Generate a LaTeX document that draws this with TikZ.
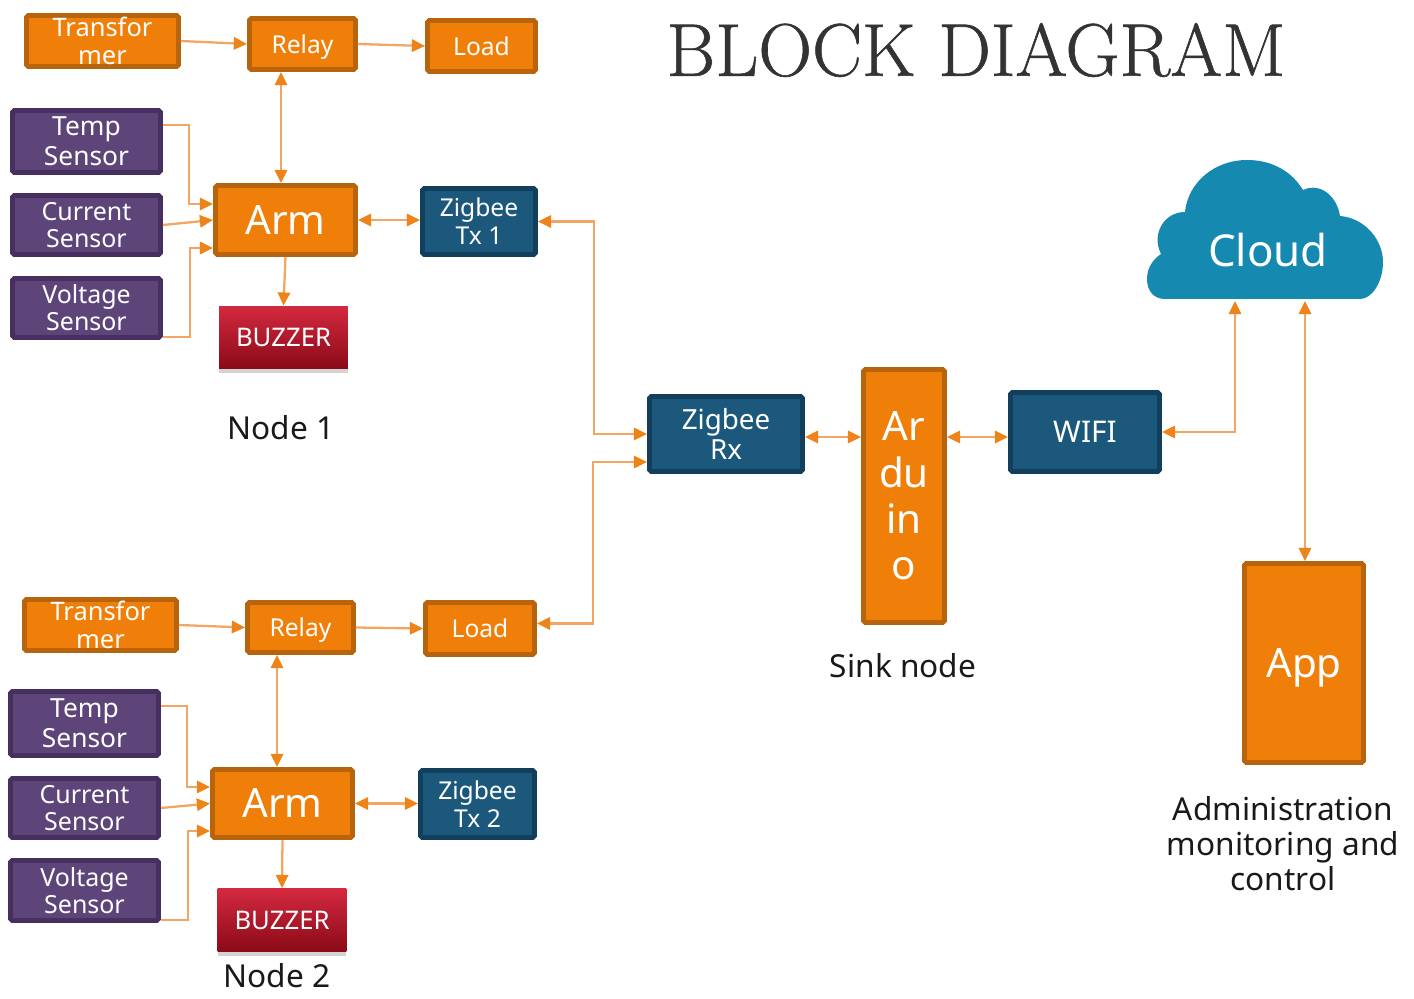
\documentclass[tikz,border=0pt]{standalone}
\usepackage{fontspec}
\usepackage{xcolor}
\usepackage{tikz}
\usetikzlibrary{arrows.meta,shadows}
\newfontfamily\labelfont{Noto Sans}
\newfontfamily\titlefont[FakeBold=0.8]{Latin Modern Roman}
\definecolor{blockorange}{HTML}{F07F09}
\definecolor{edgeorange}{HTML}{B8640C}
\definecolor{blockpurple}{HTML}{5E4579}
\definecolor{edgepurple}{HTML}{47305F}
\definecolor{blockblue}{HTML}{1B587C}
\definecolor{edgeblue}{HTML}{123F5C}
\definecolor{cloudblue}{HTML}{1689B0}
\definecolor{linkorange}{HTML}{F3A662}
\definecolor{tiporange}{HTML}{EE8419}
\definecolor{buzzertop}{HTML}{D4293F}
\definecolor{buzzerbottom}{HTML}{8A0A18}
\tikzset{
  boxsize/.style 2 args={minimum width={(#1-5)*0.02cm},minimum height={(#2-5)*0.02cm}},
  block/.style={rectangle,rounded corners=1pt,line width=2.8pt,align=center,text=white,inner sep=0pt,
    font=\labelfont\fontsize{14}{16}\selectfont},
  orangebox/.style={block,draw=edgeorange,fill=blockorange},
  purplebox/.style={block,draw=edgepurple,fill=blockpurple,font=\labelfont\fontsize{15}{17}\selectfont},
  tightbox/.style={purplebox,font=\labelfont\fontsize{14.2}{15.5}\selectfont},
  bluebox/.style={block,draw=edgeblue,fill=blockblue},
  buzzerbox/.style={rectangle,text=white,top color=buzzertop,bottom color=buzzerbottom,
    minimum width=2.58cm,minimum height=1.26cm,inner sep=0pt,
    font=\labelfont\fontsize{14.6}{16}\selectfont,
    drop shadow={shadow xshift=0pt,shadow yshift=-2.5pt,opacity=0.35}},
  bigtext/.style={font=\labelfont\fontsize{23}{26.4}\selectfont},
  caption/.style={inner sep=0pt,align=center,text=black!90,font=\labelfont\fontsize{18}{20}\selectfont},
  link/.style={line width=1.3pt,draw=linkorange,
    -{Triangle[length=7.5pt,width=7pt,color=tiporange]}},
  duplex/.style={link,{Triangle[length=7.5pt,width=7pt,color=tiporange]}-{Triangle[length=7.5pt,width=7pt,color=tiporange]}}
}
\begin{document}
\begin{tikzpicture}[x=0.02cm,y=-0.02cm]
    \useasboundingbox (0,0) rectangle (1414,999);
    \node[inner sep=0pt,text=black!80,font=\titlefont\fontsize{42.5}{46}\selectfont] (title) at (976,50) {BLOCK DIAGRAM};

    \node[orangebox,font=\labelfont\fontsize{14.5}{16}\selectfont,boxsize={157}{56}] (tr1) at (102.5,41) {Transfor\\mer};
    \node[orangebox,text depth=0pt,boxsize={111}{56}] (re1) at (302.5,44) {Relay};
    \node[orangebox,boxsize={113}{56}] (lo1) at (481.5,46) {Load};
    \node[purplebox,boxsize={153}{67}] (te1) at (86.5,141.5) {Temp\\Sensor};
    \node[tightbox,boxsize={153}{64}] (cu1) at (86.5,225) {Current\\Sensor};
    \node[tightbox,boxsize={153}{64}] (vo1) at (86.5,308) {Voltage\\Sensor};
    \node[orangebox,bigtext,boxsize={145}{74}] (arm1) at (285.5,220) {Arm};
    \node[bluebox,boxsize={118}{71}] (zt1) at (479,221.5) {Zigbee\\Tx 1};
    \node[buzzerbox] (bu1) at (283.5,337.5) {BUZZER};
    \node[caption] (no1) at (281,428) {Node 1};

    \node[orangebox,font=\labelfont\fontsize{14.5}{16}\selectfont,boxsize={157}{56}] (tr2) at (100.5,625) {Transfor\\mer};
    \node[orangebox,text depth=0pt,boxsize={111}{55}] (re2) at (300.5,627.5) {Relay};
    \node[orangebox,boxsize={114}{57}] (lo2) at (480,628.5) {Load};
    \node[purplebox,boxsize={153}{69}] (te2) at (84.5,723.5) {Temp\\Sensor};
    \node[tightbox,boxsize={153}{64}] (cu2) at (84.5,808) {Current\\Sensor};
    \node[tightbox,boxsize={153}{65}] (vo2) at (84.5,890.5) {Voltage\\Sensor};
    \node[orangebox,bigtext,boxsize={145}{73}] (arm2) at (282.5,803.5) {Arm};
    \node[bluebox,boxsize={119}{72}] (zt2) at (477.5,804) {Zigbee\\Tx 2};
    \node[buzzerbox] (bu2) at (282,920) {BUZZER};
    \node[caption] (no2) at (277,976) {Node 2};

    \node[bluebox,font=\labelfont\fontsize{15.8}{17}\selectfont,boxsize={158}{80}] (rx) at (726,434) {Zigbee\\Rx};
    \node[orangebox,bigtext,boxsize={86}{258}] (ard) at (904,496) {Ar\\du\\in\\o};
    \node[bluebox,font=\labelfont\fontsize{17}{19}\selectfont,boxsize={154}{84}] (wifi) at (1085,432) {WIFI};
    \node[orangebox,bigtext,text depth=0pt,boxsize={124}{204}] (app) at (1304,663) {App};
    \node[caption] (sink) at (903,666) {Sink node};
    \node[caption] (admin) at (1283,844) {Administration\\monitoring and\\control};

    \fill[cloudblue] (1165,299) .. controls (1153,299) and (1147,290) .. (1147,279)
      .. controls (1147,266) and (1155,258) .. (1161,254)
      .. controls (1151,234) and (1164,212) .. (1185,212)
      .. controls (1188,182) and (1215,160) .. (1247,160)
      .. controls (1273,160) and (1292,172) .. (1303,190)
      .. controls (1320,182) and (1337,196) .. (1340,216)
      .. controls (1365,218) and (1383,240) .. (1383,262)
      .. controls (1383,282) and (1372,299) .. (1360,299) -- cycle;
    \node[inner sep=0pt,text=white,font=\labelfont\fontsize{25}{27}\selectfont] (cloud) at (1268,250) {Cloud};
    \coordinate (cloudl) at (1235,301);
    \coordinate (cloudr) at (1305,301);

    \draw[link] (tr1.east) -- (re1.west);
    \draw[link] (re1.east) -- (lo1.west);
    \draw[duplex] ([xshift=-.09cm]arm1.north) -- ([xshift=-.09cm]arm1.north |- re1.south);
    \draw[link] ([yshift=.33cm]te1.east) -- ++(26,0) |- ([yshift=.32cm]arm1.west);
    \draw[link] (cu1.east) -- (arm1.west);
    \draw[link] ([yshift=-.58cm]vo1.east) -- ++(27,0) |- ([yshift=-.56cm]arm1.west);
    \draw[link] (arm1.south) -- (bu1.north);
    \draw[duplex] (arm1.east) -- (arm1.east -| zt1.west);
    \draw[duplex] (zt1.east) -- ++(56,0) |- (rx.west);

    \draw[link] (tr2.east) -- (re2.west);
    \draw[link] (re2.east) -- (lo2.west);
    \draw[duplex] ([xshift=-.11cm]arm2.north) -- ([xshift=-.11cm]arm2.north |- re2.south);
    \draw[link] ([yshift=.35cm]te2.east) -- ++(26,0) |- ([yshift=.33cm]arm2.west);
    \draw[link] (cu2.east) -- (arm2.west);
    \draw[link] ([yshift=-.59cm]vo2.east) -- ++(27,0) |- ([yshift=-.55cm]arm2.west);
    \draw[link] (arm2.south) -- (bu2.north);
    \draw[duplex] (arm2.east) -- (arm2.east -| zt2.west);
    \draw[duplex] ([yshift=.1cm]lo2.east) -- ++(56,0) |- ([yshift=-.56cm]rx.west);

    \draw[duplex] ([yshift=-.06cm]rx.east) -- ([yshift=-.06cm]rx.east -| ard.west);
    \draw[duplex] ([yshift=-.1cm]wifi.west -| ard.east) -- ([yshift=-.1cm]wifi.west);
    \draw[duplex] (wifi.east) -| (cloudl);
    \draw[duplex] (cloudr) -- (cloudr |- app.north);
  \end{tikzpicture}
\end{document}
